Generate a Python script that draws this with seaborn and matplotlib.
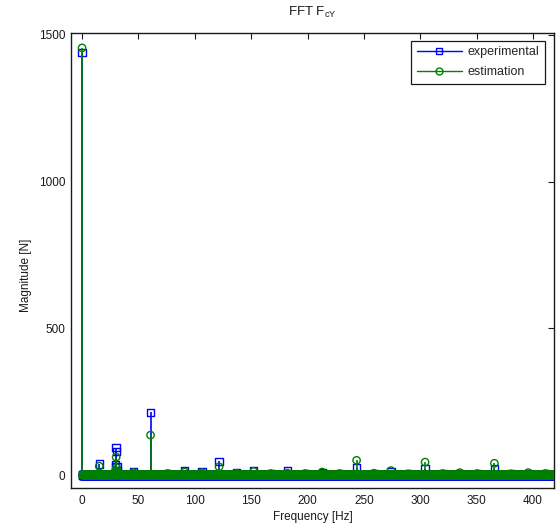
import numpy as np
import pandas as pd
import matplotlib
matplotlib.use("Agg")
import matplotlib.pyplot as plt
from matplotlib.lines import Line2D
import seaborn as sns

# ---------------- data ----------------
freq_step = 0.25          # frequency resolution of the spectrum [Hz]
freq_max = 420.0          # last plotted frequency bin [Hz]

# visible spectral lines: frequency [Hz], experimental and estimated magnitude [N]
peak_freq = [0.0, 15.25, 29.5, 29.75, 30.25, 30.5, 31.0, 31.5, 45.5, 60.75, 76.0,
             91.0, 106.5, 121.5, 137.0, 152.25, 167.5, 182.25, 198.0, 213.0,
             228.5, 243.5, 259.0, 274.0, 289.5, 304.25, 320.0, 335.0, 350.5,
             365.75, 380.5, 395.75, 411.0]
exp_peak = [1440, 38, 30, 35, 93, 81, 28, 15, 10, 214, 5,
            16, 12, 47, 8, 16, 5, 16, 6, 8,
            5, 24, 4, 10, 5, 22, 5, 5, 4,
            22, 4, 6, 6]
est_peak = [1456, 30, 12, 15, 61, 25, 10, 8, 8, 136, 5,
            10, 8, 28, 6, 12, 5, 6, 5, 10,
            5, 50, 6, 15, 4, 44, 5, 8, 5,
            40, 4, 8, 5]

series_names = ["experimental", "estimation"]
x_ticks = [0, 50, 100, 150, 200, 250, 300, 350, 400]
y_ticks = [0, 500, 1000, 1500]

# build the full spectra (background bins are at ~0)
freq = np.arange(0.0, freq_max + freq_step / 2, freq_step)
exp_mag = np.zeros_like(freq)
est_mag = np.zeros_like(freq)
idx = np.rint(np.array(peak_freq) / freq_step).astype(int)
exp_mag[idx] = exp_peak
est_mag[idx] = est_peak
df = pd.DataFrame({"freq": freq, "exp": exp_mag, "est": est_mag})

# ---------------- style ----------------
sns.set_theme(style="white")
plt.rcParams["font.family"] = ["Liberation Sans", "DejaVu Sans"]
plt.rcParams["mathtext.default"] = "regular"

blue = "#0000ff"
green = "#008000"

fig = plt.figure(figsize=(5.57, 5.32), dpi=100)
ax = fig.add_axes([0.1275, 0.0827, 0.8671, 0.8553])

# experimental stems
ax.vlines(df["freq"], 0, df["exp"], color=blue, linewidth=1.2, zorder=2)
sns.scatterplot(data=df, x="freq", y="exp", marker="s", s=28,
                facecolors="none", edgecolors=blue, linewidth=1.0,
                ax=ax, zorder=3, legend=False)
# estimation stems
ax.vlines(df["freq"], 0, df["est"], color=green, linewidth=1.2, zorder=4)
sns.scatterplot(data=df, x="freq", y="est", marker="o", s=28,
                facecolors="none", edgecolors=green, linewidth=1.0,
                ax=ax, zorder=5, legend=False)

ax.set_xlim(-9.8, 418.6)
ax.set_ylim(-44.3, 1506.8)
ax.set_xticks(x_ticks)
ax.set_yticks(y_ticks)
ax.tick_params(direction="in", top=True, right=True, length=4, width=0.8,
               colors="k", labelsize=8.5, pad=5)
ax.tick_params(axis="y", pad=4)
for sp in ax.spines.values():
    sp.set_color("k")
    sp.set_linewidth(1.0)
    sp.set_visible(True)

ax.set_xlabel("Frequency [Hz]", fontsize=8.5, color="k", labelpad=3)
ax.set_ylabel("Magnitude [N]", fontsize=8.5, color="k")
ax.yaxis.set_label_coords(-0.0807, 0.468)

fig.text(312 / 557, 1 - 12 / 532, r"FFT F$_{cY}$", ha="center", va="center",
         fontsize=9.5, color="k")

handles = [
    Line2D([], [], color=blue, linewidth=1.0, marker="s", markersize=5,
           markerfacecolor="none", markeredgecolor=blue),
    Line2D([], [], color=green, linewidth=1.0, marker="o", markersize=5,
           markerfacecolor="none", markeredgecolor=green),
]
leg = ax.legend(handles, series_names, loc="upper right",
                bbox_to_anchor=(0.982, 0.983), fontsize=9, frameon=True,
                fancybox=False, edgecolor="k", framealpha=1,
                handlelength=3.6, handletextpad=0.5, labelspacing=0.65,
                borderpad=0.45, borderaxespad=0)
leg.get_frame().set_linewidth(0.9)

fig.savefig("out.png", dpi=100)
